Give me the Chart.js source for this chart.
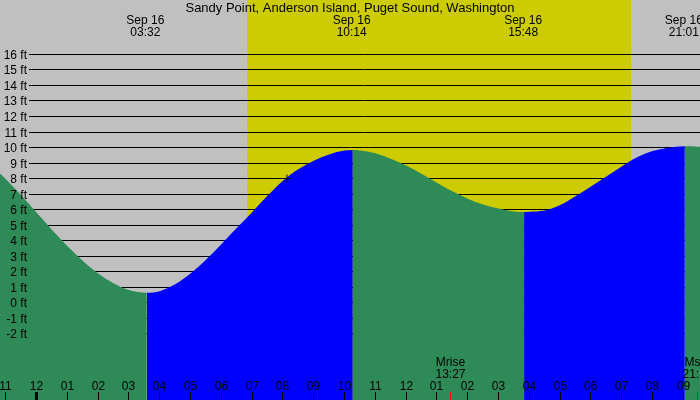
<!DOCTYPE html>
<html>
<head>
<meta charset="utf-8">
<script src="https://cdn.jsdelivr.net/npm/chart.js@4.4.1/dist/chart.umd.min.js"></script>
<style>
html,body{margin:0;padding:0;background:#c0c0c0;overflow:hidden}
#wrap{width:700px;height:400px;position:relative}
</style>
</head>
<body>
<div id="wrap"><canvas id="c" width="700" height="400"></canvas></div>
<script>
// ---- data (hours after Sep 16 00:00, heights in ft) ----
const chartTitle = 'Sandy Point, Anderson Island, Puget Sound, Washington';
const tideHours = [-2.0,-1.5,-1.0,-0.5,0.0,0.5,1.0,1.5,2.0,2.5,3.0,3.58,
  4.0,4.5,5.0,5.5,6.0,6.5,7.0,7.5,8.0,8.5,9.0,9.5,10.0,10.27,
  10.5,11.0,11.5,12.0,12.5,13.0,13.5,14.0,14.5,15.0,15.5,15.83,
  16.0,16.5,17.0,17.5,18.0,18.5,19.0,19.5,20.0,20.5,21.05,21.5,22.0];
const tideFeet = [9.55,8.9,7.96,6.92,5.8,4.7,3.64,2.69,1.87,1.24,0.8,0.63,
  0.73,1.17,1.87,2.76,3.76,4.8,5.83,6.88,7.86,8.6,9.15,9.55,9.8,9.84,
  9.81,9.63,9.28,8.84,8.3,7.73,7.17,6.7,6.32,6.06,5.875,5.84,
  5.86,5.94,6.29,6.86,7.49,8.13,8.78,9.37,9.77,9.99,10.08,10.05,9.95];
const extremeDates = ['Sep 16','Sep 16','Sep 16','Sep 16'];
const extremeTimes = ['03:32','10:14','15:48','21:01'];
const yTickValues = [-2,-1,0,1,2,3,4,5,6,7,8,9,10,11,12,13,14,15,16];
const yTickLabels = yTickValues.map(v => v + ' ft');
const hourTicks = [-1,0,1,2,3,4,5,6,7,8,9,10,11,12,13,14,15,16,17,18,19,20,21];
const hourLabels = ['11','12','01','02','03','04','05','06','07','08','09','10','11','12','01','02','03','04','05','06','07','08','09'];
const sunriseTime = '06:50';
const sunsetTime = '19:18';
const moonNames = ['Mrise','Mset'];
const moonTimes = ['13:27','21:28'];
const markerHour = 8.13;
const markerFeet = 8;

// ---- styling ----
const GRAY = '#c0c0c0', YELLOW = '#cccc00', GREEN = '#2e8b57', BLUE = '#0000ff';
const FONT = '"Liberation Sans", Arial, sans-serif';
const X_MIN = -1.1851, X_MAX = 21.542;
const Y_MIN = -6.29, Y_MAX = 19.516;

function toHours(s){ const [h,m] = s.split(':').map(Number); return h + m/60; }

const backgroundPlugin = {
  id: 'tideBackground',
  beforeDatasetsDraw(chart){
    const {ctx, scales:{x, y}, width, height} = chart;
    ctx.save();
    ctx.fillStyle = GRAY;
    ctx.fillRect(0, 0, width, height);
    const xs = Math.round(x.getPixelForValue(toHours(sunriseTime)));
    const xe = Math.round(x.getPixelForValue(toHours(sunsetTime)));
    ctx.fillStyle = YELLOW;
    ctx.fillRect(xs, 0, xe - xs, height);
    ctx.strokeStyle = '#000';
    ctx.lineWidth = 1;
    for (const v of yTickValues){
      const py = Math.floor(y.getPixelForValue(v)) + 0.5;
      ctx.beginPath();
      ctx.moveTo(29, py);
      ctx.lineTo(width, py);
      ctx.stroke();
    }
    ctx.restore();
  }
};

const labelPlugin = {
  id: 'tideLabels',
  afterDatasetsDraw(chart){
    const {ctx, scales:{x, y}, width} = chart;
    ctx.save();
    ctx.fillStyle = '#000';
    ctx.textBaseline = 'alphabetic';
    // y labels
    ctx.font = '12px ' + FONT;
    ctx.textAlign = 'right';
    yTickValues.forEach((v, i) => {
      const py = Math.floor(y.getPixelForValue(v)) + 0.5;
      ctx.fillText(yTickLabels[i], 27, py + 4);
    });
    // hour labels and ticks
    ctx.textAlign = 'center';
    hourTicks.forEach((h, i) => {
      const px = Math.floor(x.getPixelForValue(h));
      ctx.fillStyle = '#000';
      ctx.fillText(hourLabels[i], px + 0.5, 390);
      if (h === 0) ctx.fillRect(px - 1, 392, 3, 8);
      else ctx.fillRect(px, 392, 1, 8);
    });
    // moon events
    moonNames.forEach((n, i) => {
      const t = toHours(moonTimes[i]);
      const px = Math.floor(x.getPixelForValue(t));
      ctx.fillStyle = '#000';
      ctx.fillText(n, px + 0.5, 366);
      ctx.fillText(moonTimes[i], px + 0.5, 378);
      ctx.fillStyle = '#ff0000';
      ctx.fillRect(px, 392, 1, 8);
    });
    // extremes at top
    ctx.fillStyle = '#000';
    extremeTimes.forEach((s, i) => {
      const px = x.getPixelForValue(toHours(s));
      ctx.fillText(extremeDates[i], px, 24);
      ctx.fillText(s, px, 36);
    });
    // title
    ctx.font = '13px ' + FONT;
    ctx.fillText(chartTitle, width / 2, 12);
    ctx.restore();
  }
};

new Chart(document.getElementById('c'), {
  type: 'line',
  data: {
    datasets: [
      {
        type: 'scatter',
        data: [{x: markerHour, y: markerFeet}],
        pointStyle: 'cross',
        pointRadius: 4,
        borderColor: '#000',
        backgroundColor: '#000',
        borderWidth: 1,
        order: 0
      },
      {
        data: tideHours.map((h, i) => ({x: h, y: tideFeet[i]})),
        fill: 'start',
        cubicInterpolationMode: 'monotone',
        pointRadius: 0,
        borderWidth: 0,
        borderColor: 'rgba(0,0,0,0)',
        backgroundColor: GREEN,
        segment: {
          backgroundColor: c => (c.p1.parsed.y > c.p0.parsed.y ? BLUE : GREEN)
        },
        order: 1
      }
    ]
  },
  options: {
    responsive: false,
    animation: false,
    events: [],
    layout: {padding: 0, autoPadding: false},
    plugins: {legend: {display: false}, tooltip: {enabled: false}, title: {display: false}},
    scales: {
      x: {type: 'linear', min: X_MIN, max: X_MAX, display: false},
      y: {type: 'linear', min: Y_MIN, max: Y_MAX, display: false}
    }
  },
  plugins: [backgroundPlugin, labelPlugin]
});
</script>
</body>
</html>
